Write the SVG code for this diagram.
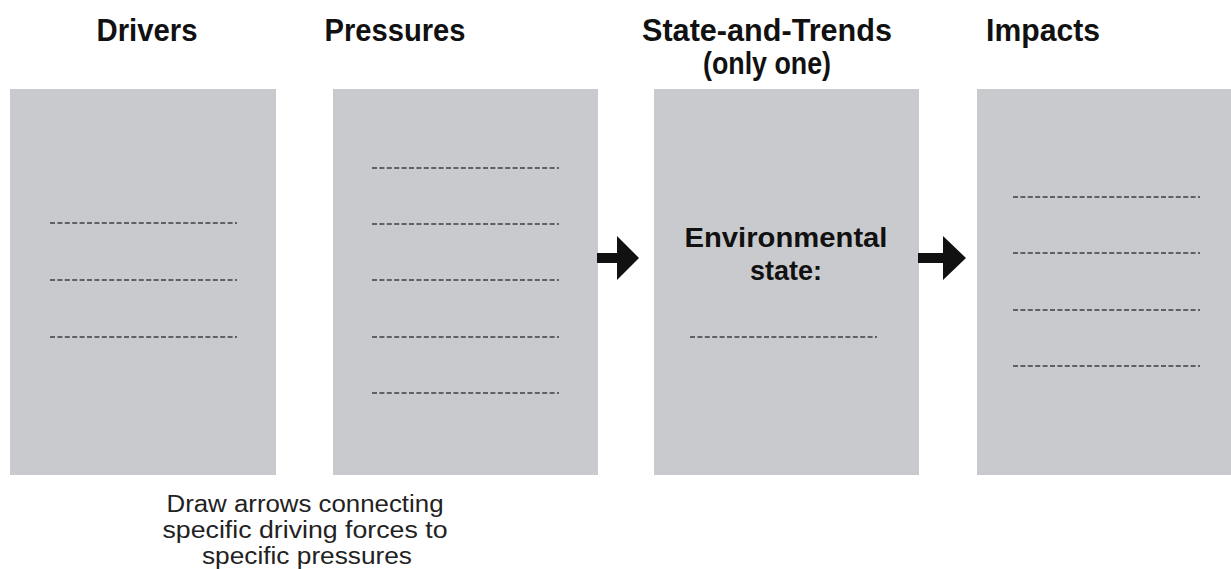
<svg xmlns="http://www.w3.org/2000/svg" width="1231" height="569" viewBox="0 0 1231 569">
<style>
.box{fill:#c9cacd}
.dash{stroke:#3f3f42;stroke-width:1.6;stroke-dasharray:5 2.4;fill:none}
.title{font-family:"Liberation Sans",Arial,sans-serif;font-weight:bold;font-size:32px;fill:#111;text-anchor:middle}
.inner{font-family:"Liberation Sans",Arial,sans-serif;font-weight:bold;font-size:27px;fill:#111;text-anchor:middle}
.note{font-family:"Liberation Sans",Arial,sans-serif;font-size:23px;fill:#222;text-anchor:middle}
.arrow{fill:#111}
</style>
<rect width="1231" height="569" fill="#fff"/>
<g id="drivers">
<text class="title" x="147" y="41" textLength="101" lengthAdjust="spacingAndGlyphs">Drivers</text>
<rect class="box" x="10" y="89" width="266" height="386"/>
<line class="dash" x1="50" y1="223" x2="237" y2="223"/>
<line class="dash" x1="50" y1="280" x2="237" y2="280"/>
<line class="dash" x1="50" y1="337" x2="237" y2="337"/>
</g>
<g id="pressures">
<text class="title" x="395" y="41" textLength="141" lengthAdjust="spacingAndGlyphs">Pressures</text>
<rect class="box" x="333" y="89" width="265" height="386"/>
<line class="dash" x1="372" y1="168" x2="559" y2="168"/>
<line class="dash" x1="372" y1="224" x2="559" y2="224"/>
<line class="dash" x1="372" y1="280" x2="559" y2="280"/>
<line class="dash" x1="372" y1="337" x2="559" y2="337"/>
<line class="dash" x1="372" y1="393" x2="559" y2="393"/>
</g>
<g id="state">
<text class="title" x="767" y="41" textLength="250" lengthAdjust="spacingAndGlyphs">State-and-Trends</text>
<text class="title" x="767" y="74" textLength="128" lengthAdjust="spacingAndGlyphs">(only one)</text>
<rect class="box" x="654" y="89" width="265" height="386"/>
<text class="inner" x="786" y="247" textLength="203" lengthAdjust="spacingAndGlyphs">Environmental</text>
<text class="inner" x="786" y="280">state:</text>
<line class="dash" x1="690" y1="337" x2="877" y2="337"/>
</g>
<g id="impacts">
<text class="title" x="1043" y="41" textLength="114" lengthAdjust="spacingAndGlyphs">Impacts</text>
<rect class="box" x="977" y="89" width="254" height="386"/>
<line class="dash" x1="1013" y1="197" x2="1200" y2="197"/>
<line class="dash" x1="1013" y1="253" x2="1200" y2="253"/>
<line class="dash" x1="1013" y1="310" x2="1200" y2="310"/>
<line class="dash" x1="1013" y1="366" x2="1200" y2="366"/>
</g>
<g id="note">
<text class="note" x="305" y="512" textLength="277" lengthAdjust="spacingAndGlyphs">Draw arrows connecting</text>
<text class="note" x="305" y="538" textLength="285" lengthAdjust="spacingAndGlyphs">specific driving forces to</text>
<text class="note" x="307" y="564" textLength="210" lengthAdjust="spacingAndGlyphs">specific pressures</text>
</g>
<g id="connectors">
<polygon class="arrow" points="597,253 617,253 617,236 639,258 617,280 617,263 597,263"/>
<polygon class="arrow" points="918,253 943,253 943,236 966,258 943,280 943,263 918,263"/>
</g>
</svg>
